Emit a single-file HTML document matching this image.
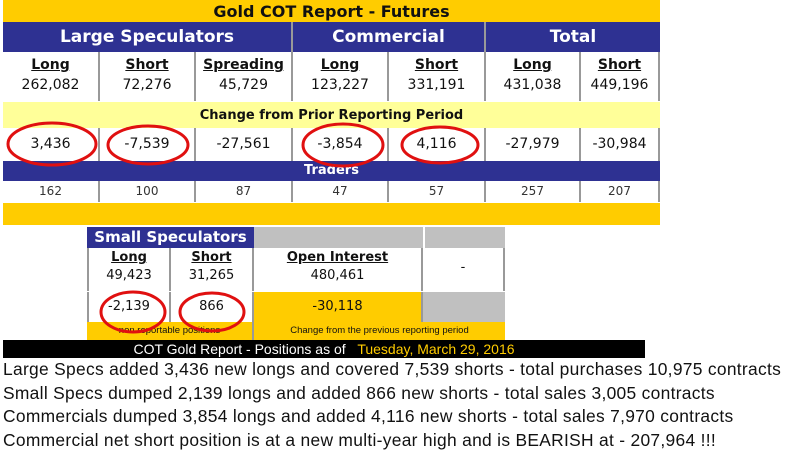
<!DOCTYPE html>
<html><head><meta charset="utf-8"><style>
body{margin:0;width:800px;height:467px;background:#fff;position:relative;overflow:hidden;font-family:"DejaVu Sans",Verdana,sans-serif;}
.a{position:absolute;box-sizing:border-box;text-align:center;color:#111}
.blue{background:#2e3192;color:#fff;font-weight:bold;font-size:17px;line-height:30px}
.cell{border-right:2px solid #999;background:#fff;font-size:13px}
.lbl{text-decoration:underline;font-weight:bold;display:block;line-height:20px}
.val{display:block;line-height:20px}
.t{position:absolute;left:3px;font-family:"Liberation Sans",sans-serif;font-size:17.4px;color:#111;white-space:nowrap;letter-spacing:0.3px}
</style></head><body>
<div class="a" style="left:3px;top:0;width:657px;height:22px;background:#ffcc00;font-weight:bold;font-size:16px;line-height:24px">Gold COT Report - Futures</div>
<div class="a blue" style="left:3px;top:22px;width:290px;height:30px;border-right:2px solid #999">Large Speculators</div>
<div class="a blue" style="left:293px;top:22px;width:193px;height:30px;border-right:2px solid #999">Commercial</div>
<div class="a blue" style="left:486px;top:22px;width:174px;height:30px">Total</div>
<div id="rows"></div>
<div class="a" style="left:3px;top:102px;width:657px;height:26px;background:#ffff99;font-weight:bold;font-size:13px;line-height:27px">Change from Prior Reporting Period</div>
<div class="a blue" style="left:3px;top:161px;width:657px;height:20px;font-size:13px;line-height:20px">Traders</div>
<div class="a" style="left:3px;top:203px;width:657px;height:22px;background:#ffcc00"></div>
<div class="a blue" style="left:87px;top:227px;width:167px;height:21px;font-size:15px;line-height:21px">Small Speculators</div>
<div class="a" style="left:254px;top:227px;width:169px;height:21px;background:#c0c0c0"></div>
<div class="a" style="left:423px;top:227px;width:82px;height:21px;background:#c0c0c0;border-left:2px solid #fff"></div>
<div class="a cell" style="left:87px;top:248px;width:84px;height:43px;border-left:2px solid #999"><span class="lbl">Long</span><span class="val" style="line-height:16px">49,423</span></div>
<div class="a cell" style="left:171px;top:248px;width:83px;height:43px"><span class="lbl">Short</span><span class="val" style="line-height:16px">31,265</span></div>
<div class="a cell" style="left:254px;top:248px;width:169px;height:43px"><span class="lbl">Open Interest</span><span class="val" style="line-height:16px">480,461</span></div>
<div class="a cell" style="left:423px;top:248px;width:82px;height:43px;line-height:40px">-</div>
<div class="a cell" style="left:87px;top:292px;width:84px;height:30px;border-left:2px solid #999;line-height:30px">-2,139</div>
<div class="a cell" style="left:171px;top:292px;width:83px;height:30px;line-height:30px">866</div>
<div class="a" style="left:254px;top:292px;width:169px;height:30px;background:#ffcc00;font-size:13px;line-height:30px;border-right:2px solid #999">-30,118</div>
<div class="a" style="left:423px;top:292px;width:82px;height:30px;background:#c0c0c0"></div>
<div class="a" style="left:87px;top:322px;width:167px;height:18px;background:#ffcc00;font-family:'Liberation Sans',sans-serif;font-size:9.5px;line-height:18px;border-right:2px solid #999">non reportable positions</div>
<div class="a" style="left:254px;top:322px;width:251px;height:18px;background:#ffcc00;font-family:'Liberation Sans',sans-serif;font-size:9.5px;line-height:18px">Change from the previous reporting period</div>
<div class="a" style="left:3px;top:340px;width:642px;height:18px;background:#000;color:#fff;font-family:'Liberation Sans',sans-serif;font-size:14px;line-height:18px">COT Gold Report - Positions as of &nbsp;&nbsp;<span style="color:#ffcc00">Tuesday, March 29, 2016</span></div>
<div class="t" style="top:359px">Large Specs added 3,436 new longs and covered 7,539 shorts - total purchases 10,975 contracts</div>
<div class="t" style="top:383px">Small Specs dumped 2,139 longs and added 866 new shorts - total sales 3,005 contracts</div>
<div class="t" style="top:406px">Commercials dumped 3,854 longs and added 4,116 new shorts - total sales 7,970 contracts</div>
<div class="t" style="top:430px">Commercial net short position is at a new multi-year high and is BEARISH at - 207,964 !!!</div>
<svg class="a" width="800" height="467" style="left:0;top:0;pointer-events:none" fill="none" stroke="#e01010" stroke-width="3">
<ellipse cx="52" cy="144" rx="44" ry="21"/><ellipse cx="148" cy="145" rx="40" ry="19"/>
<ellipse cx="343" cy="145" rx="40" ry="21"/><ellipse cx="440" cy="145" rx="38" ry="18"/>
<ellipse cx="133" cy="312" rx="32" ry="20"/><ellipse cx="212" cy="312" rx="32" ry="19"/>
</svg>
<script>
const labels=["Long","Short","Spreading","Long","Short","Long","Short"];
const positions=["262,082","72,276","45,729","123,227","331,191","431,038","449,196"];
const changes=["3,436","-7,539","-27,561","-3,854","4,116","-27,979","-30,984"];
const traders=["162","100","87","47","57","257","207"];
const xs=[3,100,196,293,389,486,581,660];
const r=document.getElementById('rows');
for(let i=0;i<7;i++){
 const w=xs[i+1]-xs[i];
 let d=document.createElement('div');d.className='a cell';
 
 
 d.style.cssText=`left:${xs[i]}px;top:52px;width:${w}px;height:49px;padding-top:3px;font-size:14px`;
 d.innerHTML=`<span class="lbl">${labels[i]}</span><span class="val">${positions[i]}</span>`;r.appendChild(d);
 d=document.createElement('div');d.className='a cell';
 
 
 d.style.cssText=`left:${xs[i]}px;top:128px;width:${w}px;height:33px;line-height:33px;font-size:14px`;
 d.textContent=changes[i];r.appendChild(d);
 d=document.createElement('div');d.className='a cell';
 
 
 d.style.cssText=`left:${xs[i]}px;top:181px;width:${w}px;height:21px;line-height:21px;font-size:12px;color:#333`;
 d.textContent=traders[i];r.appendChild(d);
}
</script>
</body></html>
